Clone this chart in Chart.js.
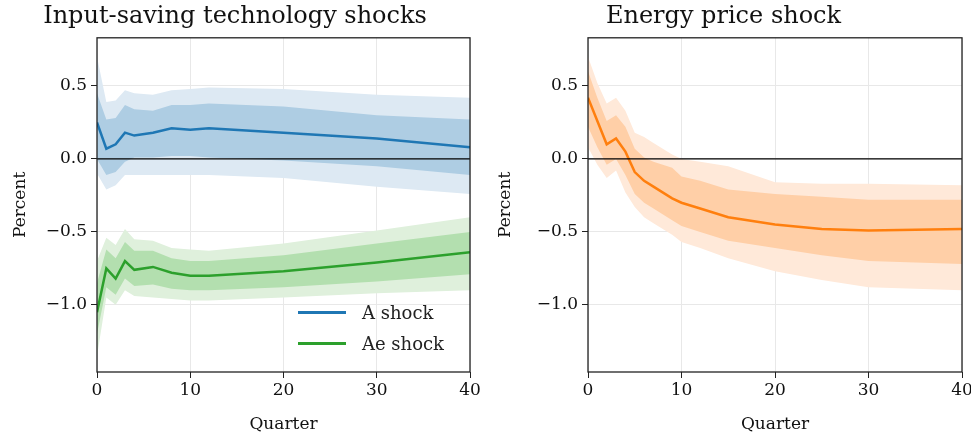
<!DOCTYPE html>
<html>
<head>
<meta charset="utf-8">
<script src="https://cdn.jsdelivr.net/npm/chart.js@4"></script>
<style>
body { margin: 0; background: #fff; }
#wrap { position: relative; width: 971px; height: 435px; }
.box { position: absolute; top: 0; height: 435px; }
#legend { position: absolute; left: 298px; top: 297px; font: 18px "DejaVu Serif", serif; color: #222; }
#legend div { height: 31px; display: flex; align-items: center; }
#legend span { display: inline-block; width: 48px; height: 2.5px; margin-right: 16px; }
</style>
</head>
<body>
<div id="wrap">
  <div class="box" style="left:0;width:485px"><canvas id="left"></canvas></div>
  <div class="box" style="left:485px;width:486px"><canvas id="right"></canvas></div>
  <div id="legend">
    <div><span style="background:#1f77b4"></span>A shock</div>
    <div><span style="background:#2ca02c"></span>Ae shock</div>
  </div>
</div>
<script>
"use strict";

const qA = [0, 1, 2, 3, 4, 6, 8, 10, 12, 20, 30, 40];
const aMedian = [0.25, 0.07, 0.10, 0.18, 0.16, 0.18, 0.21, 0.20, 0.21, 0.18, 0.14, 0.08];
const aDarkUp = [0.45, 0.27, 0.28, 0.37, 0.34, 0.33, 0.37, 0.37, 0.38, 0.36, 0.30, 0.27];
const aDarkLo = [0.00, -0.11, -0.09, -0.02, 0.01, 0.01, 0.02, 0.02, 0.01, -0.01, -0.05, -0.11];
const aLightUp = [0.70, 0.39, 0.40, 0.47, 0.45, 0.44, 0.47, 0.48, 0.49, 0.48, 0.44, 0.42];
const aLightLo = [-0.10, -0.21, -0.18, -0.11, -0.11, -0.11, -0.11, -0.11, -0.11, -0.13, -0.19, -0.24];

const aeMedian = [-1.05, -0.75, -0.82, -0.70, -0.76, -0.74, -0.78, -0.80, -0.80, -0.77, -0.71, -0.64];
const aeDarkUp = [-0.85, -0.62, -0.68, -0.57, -0.63, -0.63, -0.68, -0.70, -0.70, -0.66, -0.58, -0.50];
const aeDarkLo = [-1.20, -0.88, -0.93, -0.82, -0.87, -0.86, -0.89, -0.90, -0.90, -0.88, -0.84, -0.79];
const aeLightUp = [-0.70, -0.54, -0.59, -0.48, -0.55, -0.56, -0.61, -0.62, -0.63, -0.58, -0.49, -0.40];
const aeLightLo = [-1.35, -0.95, -1.00, -0.90, -0.94, -0.95, -0.96, -0.97, -0.97, -0.95, -0.92, -0.90];

const qE = [0, 1, 2, 3, 4, 5, 6, 7, 9, 10, 12, 15, 20, 25, 30, 40];
const eMedian = [0.42, 0.26, 0.10, 0.14, 0.05, -0.09, -0.15, -0.19, -0.27, -0.30, -0.34, -0.40, -0.45, -0.48, -0.49, -0.48];
const eDarkUp = [0.60, 0.42, 0.26, 0.30, 0.22, 0.07, 0.01, -0.02, -0.06, -0.12, -0.15, -0.21, -0.24, -0.26, -0.28, -0.28];
const eDarkLo = [0.22, 0.08, -0.04, 0.00, -0.11, -0.24, -0.30, -0.34, -0.42, -0.46, -0.50, -0.56, -0.61, -0.66, -0.70, -0.72];
const eLightUp = [0.70, 0.52, 0.38, 0.42, 0.33, 0.18, 0.15, 0.11, 0.03, 0.00, -0.02, -0.05, -0.16, -0.17, -0.17, -0.18];
const eLightLo = [0.08, -0.04, -0.13, -0.08, -0.23, -0.33, -0.40, -0.44, -0.52, -0.57, -0.61, -0.68, -0.77, -0.83, -0.88, -0.90];

const xTicks = [0, 10, 20, 30, 40];
const yTicks = [-1.0, -0.5, 0.0, 0.5];

const FONT = "'DejaVu Serif', serif";

function pts(xs, ys) {
    return xs.map((x, i) => ({ x: x, y: ys[i] }));
}

// order: higher numbers are drawn first (underneath)
function band(xs, up, lo, color, order) {
    return [
        { data: pts(xs, up), borderWidth: 0, pointRadius: 0, backgroundColor: color, fill: "+1", order: order },
        { data: pts(xs, lo), borderWidth: 0, pointRadius: 0, fill: false, order: order },
    ];
}

function medianLine(xs, ys, color) {
    return { data: pts(xs, ys), borderColor: color, borderWidth: 2.5, pointRadius: 0, fill: false, order: 0 };
}

const zeroLine = {
    id: "zeroLine",
    afterDatasetsDraw(chart) {
        const y = chart.scales.y.getPixelForValue(0);
        const ctx = chart.ctx;
        ctx.save();
        ctx.strokeStyle = "#000";
        ctx.lineWidth = 1.3;
        ctx.beginPath();
        ctx.moveTo(chart.chartArea.left, y);
        ctx.lineTo(chart.chartArea.right, y);
        ctx.stroke();
        ctx.restore();
    },
    afterDraw(chart) {
        const a = chart.chartArea;
        const ctx = chart.ctx;
        ctx.save();
        ctx.strokeStyle = "#222";
        ctx.lineWidth = 1.3;
        ctx.strokeRect(a.left, a.top, a.right - a.left, a.bottom - a.top);
        ctx.restore();
    },
};

function makeChart(id, title, datasets, yWidth, rightPad) {
    return new Chart(document.getElementById(id), {
        type: "line",
        data: { datasets: datasets },
        options: {
            responsive: false,
            animation: false,
            layout: { padding: { right: rightPad, top: 0 } },
            plugins: {
                legend: { display: false },
                tooltip: { enabled: false },
                title: {
                    display: true,
                    text: title,
                    color: "#111",
                    font: { family: FONT, size: 24, weight: "normal" },
                    padding: { top: 2, bottom: 7 },
                },
            },
            scales: {
                x: {
                    type: "linear",
                    min: 0,
                    max: 40,
                    afterBuildTicks: s => { s.ticks = xTicks.map(v => ({ value: v })); },
                    afterFit: s => { s.height = 63; s.paddingRight = 0; },
                    ticks: { color: "#111", font: { family: FONT, size: 17 }, padding: 2, maxRotation: 0 },
                    grid: { color: "#e8e8e8", tickColor: "#222", tickLength: 6 },
                    border: { display: false },
                    title: { display: true, text: "Quarter", color: "#111", font: { family: FONT, size: 17 }, padding: 0 },
                },
                y: {
                    min: -1.46,
                    max: 0.83,
                    afterBuildTicks: s => { s.ticks = yTicks.map(v => ({ value: v })); },
                    afterFit: s => { s.width = yWidth; },
                    ticks: {
                        color: "#111",
                        font: { family: FONT, size: 17 },
                        padding: 4,
                        callback: v => (v < 0 ? "\u2212" : "") + Math.abs(v).toFixed(1),
                    },
                    grid: { color: "#e8e8e8", tickColor: "#222", tickLength: 6 },
                    border: { display: false },
                    title: { display: true, text: "Percent", color: "#111", font: { family: FONT, size: 17 }, padding: { top: 10, bottom: 0 } },
                },
            },
        },
        plugins: [zeroLine],
    });
}

function sizeCanvas(id, w) {
    const c = document.getElementById(id);
    c.width = w;
    c.height = 435;
    c.style.width = w + "px";
    c.style.height = "435px";
}

sizeCanvas("left", 485);
sizeCanvas("right", 486);

makeChart("left", "Input-saving technology shocks", [
    ...band(qA, aLightUp, aLightLo, "#dde9f3", 3),
    ...band(qA, aDarkUp, aDarkLo, "#aecde3", 2),
    ...band(qA, aeLightUp, aeLightLo, "#dff0dc", 3),
    ...band(qA, aeDarkUp, aeDarkLo, "#b3dfaf", 2),
    medianLine(qA, aMedian, "#1f77b4"),
    medianLine(qA, aeMedian, "#2ca02c"),
], 97, 15);

makeChart("right", "Energy price shock", [
    ...band(qE, eLightUp, eLightLo, "#ffe9d9", 3),
    ...band(qE, eDarkUp, eDarkLo, "#ffcfa7", 2),
    medianLine(qE, eMedian, "#ff7f0e"),
], 103, 9);
</script>
</body>
</html>
